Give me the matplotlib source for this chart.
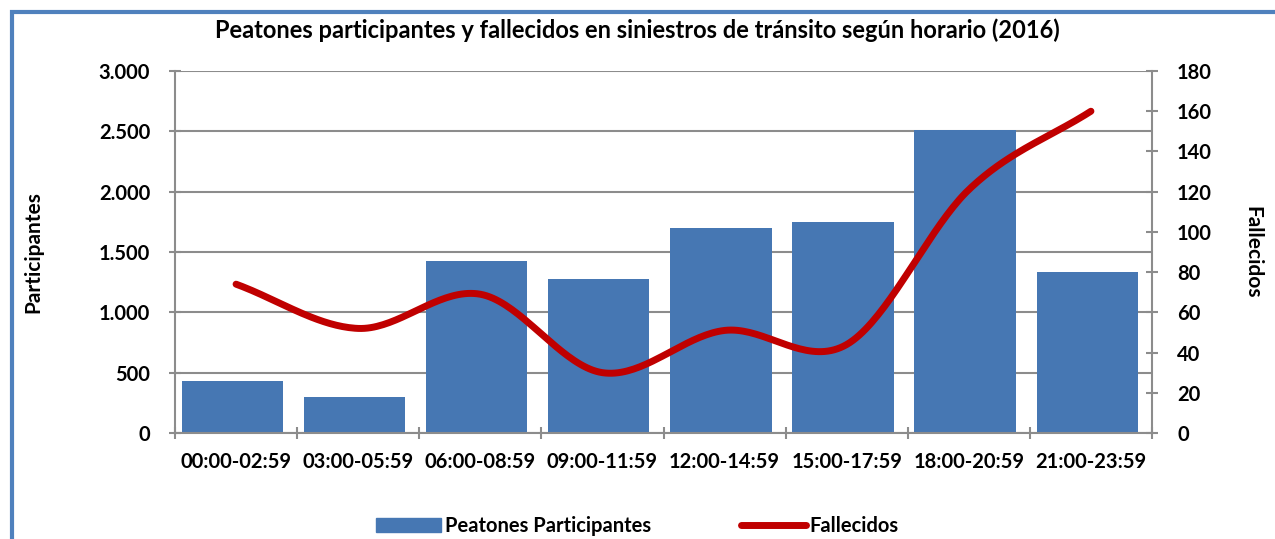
import numpy as np
import matplotlib.pyplot as plt
from matplotlib.patches import Rectangle
from matplotlib.lines import Line2D
from matplotlib.ticker import FuncFormatter

plt.rcParams['font.family'] = ['Lato', 'DejaVu Sans']

horarios = ['00:00-02:59', '03:00-05:59', '06:00-08:59', '09:00-11:59',
            '12:00-14:59', '15:00-17:59', '18:00-20:59', '21:00-23:59']
participantes = [430, 300, 1425, 1275, 1695, 1745, 2510, 1335]
fallecidos = [74, 52, 69, 30, 51, 44, 121, 160]

azul = '#4677b3'
rojo = '#c00000'
gris = '#8c8c8c'


def suavizar(x, y, n=40):
    # curva tipo Catmull-Rom, como la linea suavizada de Excel
    x = np.asarray(x, float)
    y = np.asarray(y, float)
    px = np.concatenate([[2 * x[0] - x[1]], x, [2 * x[-1] - x[-2]]])
    py = np.concatenate([[2 * y[0] - y[1]], y, [2 * y[-1] - y[-2]]])
    xs, ys = [], []
    t = np.linspace(0, 1, n)
    for i in range(1, len(px) - 2):
        for p, out in ((px, xs), (py, ys)):
            p0, p1, p2, p3 = p[i - 1], p[i], p[i + 1], p[i + 2]
            out.extend(0.5 * (2 * p1 + (-p0 + p2) * t
                              + (2 * p0 - 5 * p1 + 4 * p2 - p3) * t ** 2
                              + (-p0 + 3 * p1 - 3 * p2 + p3) * t ** 3))
    return xs, ys


fig = plt.figure(figsize=(12.75, 5.39), dpi=100)
ax = fig.add_axes([175 / 1275, 1 - 433 / 539, (1152 - 175) / 1275, (433 - 71) / 539])

# marco azul de la imagen
fig.patches.append(Rectangle((12 / 1275, -0.1), 1.2, 1 - 12 / 539 + 0.1,
                             transform=fig.transFigure, fill=False,
                             edgecolor='#4f81bd', linewidth=3))

x = np.arange(len(horarios))
ax.bar(x - 0.03, participantes, width=0.83, color=azul, zorder=2)
ax.set_xlim(-0.5, len(horarios) - 0.5)
ax.set_ylim(0, 3000)
ax.set_yticks(range(0, 3001, 500))
ax.yaxis.set_major_formatter(FuncFormatter(lambda v, p: f'{int(v):,}'.replace(',', '.')))
ax.grid(axis='y', color=gris, linewidth=1.5, zorder=0)
ax.set_axisbelow(True)
ax.set_xticks(x)
ax.set_xticklabels(horarios)
ax.set_xticks(np.arange(-0.5, len(horarios)), minor=True)
ax.tick_params(axis='x', which='major', length=0, pad=14)
ax.tick_params(axis='x', which='minor', length=8, direction='inout', color=gris, width=1.5)
ax.tick_params(axis='y', length=8, direction='inout', color=gris, width=1.5, pad=14)
for s in ['top', 'right']:
    ax.spines[s].set_visible(False)
for s in ['left', 'bottom']:
    ax.spines[s].set_color(gris)
    ax.spines[s].set_linewidth(1.5)
for lab in ax.get_xticklabels() + ax.get_yticklabels():
    lab.set_fontweight('bold')
    lab.set_fontsize(14.5)
ax.set_ylabel('Participantes', fontsize=15, fontweight='bold', labelpad=40)

ax2 = ax.twinx()
xs, ys = suavizar(x, fallecidos)
ax2.plot(xs, ys, color=rojo, linewidth=5, solid_capstyle='round', zorder=3)
ax2.set_ylim(0, 180)
ax2.set_yticks(range(0, 181, 20))
ax2.tick_params(axis='y', length=8, direction='inout', color=gris, width=1.5, pad=14)
for s in ['top', 'left', 'bottom']:
    ax2.spines[s].set_visible(False)
ax2.spines['right'].set_color(gris)
ax2.spines['right'].set_linewidth(1.5)
for lab in ax2.get_yticklabels():
    lab.set_fontweight('bold')
    lab.set_fontsize(14.5)
ax2.set_ylabel('Fallecidos', fontsize=15, fontweight='bold', rotation=-90, labelpad=36)

fig.text(0.5, 1 - 30 / 539, 'Peatones participantes y fallecidos en siniestros de tránsito según horario (2016)',
         ha='center', va='center', fontsize=17, fontweight='bold')

handles = [Rectangle((0, 0), 1, 1, color=azul),
           Line2D([0], [0], color=rojo, linewidth=5, solid_capstyle='round')]
fig.legend(handles, ['Peatones Participantes', 'Fallecidos'], loc='center',
           bbox_to_anchor=(0.5, 1 - 526 / 539), ncol=2, frameon=False,
           prop={'weight': 'bold', 'size': 14.5}, handlelength=3.2, handletextpad=0.2,
           columnspacing=4.5)

fig.savefig('out.png', dpi=100)
